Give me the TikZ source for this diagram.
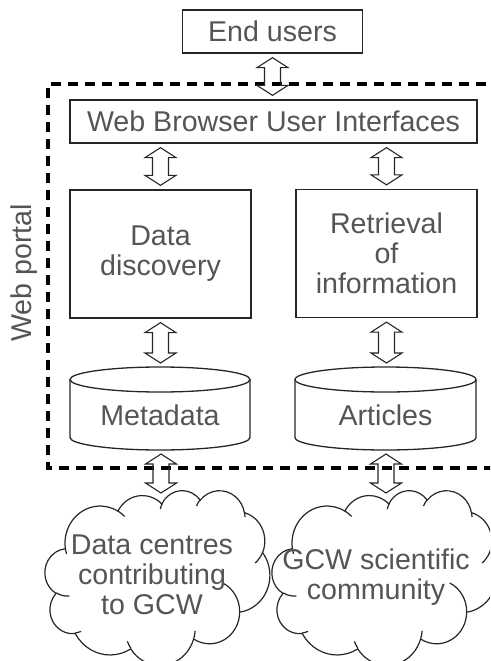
\documentclass[tikz,border=0pt]{standalone}
\usepackage{fontspec}
\setmainfont{Liberation Sans}
\usetikzlibrary{calc}
\definecolor{txt}{HTML}{555555}
% cloud geometry (Office-style cloud, 43200 units -> 225 x 175 px)
\def\cldsx{0.00520833}
\def\cldsy{0.00405093}
\def\cldsxk{5.20833}
\def\cldsyk{4.05093}
\newcommand\cldprep[5]{% id, wR, hR, stAng, swAng (visual angles, degrees)
  \pgfmathsetmacro\cldtmpS{atan2(#2*sin(#4), #3*cos(#4))}%
  \pgfmathsetmacro\cldtmpE{atan2(#2*sin(#4+#5), #3*cos(#4+#5))}%
  \expandafter\pgfmathsetmacro\csname cldS#1\endcsname{-(\cldtmpS)}%
  \expandafter\pgfmathsetmacro\csname cldD#1\endcsname{-mod(\cldtmpE-(\cldtmpS)+720,360)}%
  \expandafter\pgfmathsetmacro\csname cldX#1\endcsname{#2*\cldsx}%
  \expandafter\pgfmathsetmacro\csname cldY#1\endcsname{#3*\cldsy}%
}
\cldprep{a}{6753}{9190}{-190.4875}{123.7805}
\cldprep{b}{5333}{7267}{-144.1024}{89.9452}
\cldprep{c}{4365}{5945}{-145.8079}{99.7230}
\cldprep{d}{4857}{6595}{-130.9861}{117.2417}
\cldprep{e}{5333}{7273}{-78.7089}{109.0269}
\cldprep{f}{6775}{9220}{-46.2673}{130.2690}
\cldprep{g}{5785}{7867}{0.6250}{114.0333}
\cldprep{h}{6752}{9215}{22.4516}{115.1726}
\cldprep{i}{7720}{10543}{66.2426}{75.7110}
\cldprep{j}{4360}{5918}{-274.9421}{146.7356}
\cldprep{k}{4345}{5945}{-246.8285}{152.5189}
% inner strokes
\cldprep{A}{4345}{5945}{86.7420}{26.4295}
\cldprep{B}{4360}{5918}{73.6105}{11.4475}
\cldprep{C}{6752}{9215}{137.6242}{14.0811}
\cldprep{D}{6752}{9215}{6.4533}{15.9984}
\cldprep{E}{5785}{7867}{-70.2924}{70.9174}
\cldprep{F}{5333}{7273}{30.3180}{27.7515}
\cldprep{G}{4857}{6595}{-13.7443}{14.8589}
\cldprep{H}{4857}{6595}{-149.1815}{18.1954}
\cldprep{I}{4365}{5945}{-163.4943}{17.6864}
\cldprep{J}{6753}{9190}{-66.7070}{12.3194}
\cldprep{K}{6753}{9190}{157.6544}{11.8582}
\newcommand\cldarc[1]{arc[start angle=\csname cldS#1\endcsname, delta angle=\csname cldD#1\endcsname, x radius=\csname cldX#1\endcsname pt, y radius=\csname cldY#1\endcsname pt]}
% point in thousands of shape units
\newcommand\cldpt[4]{({#1+#3*\cldsxk},{#2+#4*\cldsyk})}
\newcommand\drawcloud[2]{% top-left corner (page px)
  \draw[cloudline, fill=white] \cldpt{#1}{#2}{3.900}{14.370}
    \cldarc{a} \cldarc{b} \cldarc{c} \cldarc{d} \cldarc{e} \cldarc{f}
    \cldarc{g} \cldarc{h} \cldarc{i} \cldarc{j} \cldarc{k} -- cycle;
  \draw[cloudline]
    \cldpt{#1}{#2}{4.693}{26.177} \cldarc{A}
    \cldpt{#1}{#2}{6.928}{34.899} \cldarc{B}
    \cldpt{#1}{#2}{16.478}{39.090} \cldarc{C}
    \cldpt{#1}{#2}{28.827}{34.751} \cldarc{D}
    \cldpt{#1}{#2}{34.129}{22.954} \cldarc{E}
    \cldpt{#1}{#2}{41.798}{15.354} \cldarc{F}
    \cldpt{#1}{#2}{38.324}{5.426} \cldarc{G}
    \cldpt{#1}{#2}{29.078}{3.952} \cldarc{H}
    \cldpt{#1}{#2}{22.141}{4.720} \cldarc{I}
    \cldpt{#1}{#2}{14.000}{5.192} \cldarc{J}
    \cldpt{#1}{#2}{4.127}{15.789} \cldarc{K};
}
\begin{document}
\begin{tikzpicture}[x=1pt,y=-1pt,
  font=\fontsize{28.6}{30}\selectfont, text=txt,
  box/.style={draw=black!85, line width=1.3pt, inner sep=0pt},
  line/.style={draw=black!85, line width=1.3pt},
  cloudline/.style={draw=black!85, line width=1.2pt},
  dbl/.style={draw=black!85, line width=1.1pt, line join=miter,
    to path={let \p1=(\tikztostart), \p2=(\tikztotarget) in
      (\x1,\y1) -- (\x1+15.5pt,\y1-10pt) -- (\x1+8pt,\y1-10pt) -- (\x1+8pt,\y2+10pt)
      -- (\x1+15.5pt,\y2+10pt) -- (\x1,\y2) -- (\x1-15.5pt,\y2+10pt) -- (\x1-8pt,\y2+10pt)
      -- (\x1-8pt,\y1-10pt) -- (\x1-15.5pt,\y1-10pt) -- cycle}}
]
\useasboundingbox (0,0) rectangle (490,661);
\clip (0,0) rectangle (490,661);

% boxes
\node[box, minimum width=180pt, minimum height=43pt] (eu) at (272.5,31.5) {End users};
\node[box, minimum width=407pt, minimum height=43pt] (wb) at (273.5,121.5) {Web Browser User Interfaces};
\node[box, minimum width=181pt, minimum height=128pt, align=center] (dd) at (160.5,254) {Data\\discovery};
\node[box, minimum width=181pt, minimum height=128pt, align=center] (ri) at (386.5,253.5) {Retrieval\\of\\information};

% cylinders
\draw[line] (160,379.5) ellipse[x radius=90pt, y radius=12.5pt];
\draw[line] (70,379.5) -- (70,437.5) arc[start angle=180, end angle=360, x radius=90pt, y radius=12.5pt] -- (250,379.5);
\node (md) at (160,415) {Metadata};
\draw[line] (385.5,379.5) ellipse[x radius=90.5pt, y radius=12.5pt];
\draw[line] (295,379.5) -- (295,437.5) arc[start angle=180, end angle=360, x radius=90.5pt, y radius=12.5pt] -- (476,379.5);
\node (ar) at (385.5,415) {Articles};
\coordinate (mdtop) at (161,367);
\coordinate (mdbot) at (161,450);
\coordinate (artop) at (386,367);
\coordinate (arbot) at (386,450);

% clouds
\drawcloud{45}{490}
\drawcloud{272}{490}
\coordinate (c1top) at (161,493);
\coordinate (c2top) at (386,493);
\node[align=center] (t1) at (152,575) {Data centres\\contributing\\to GCW};
\node[align=center] (t2) at (376,577) {GCW scientific\\community};

% web portal
\draw[line width=4pt, dash pattern=on 10pt off 7pt] (520,84) -- (48,84) -- (48,468) -- (520,468);
\node[rotate=90] (wp) at (24.5,273) {Web portal};

% arrows
\draw[dbl] ($(eu.south)+(0,4)$) to ($(eu.south |- wb.north)+(0,-4)$);
\draw[dbl] ($(dd.north |- wb.south)+(0,4)$) to ($(dd.north)+(0,-4)$);
\draw[dbl] ($(ri.north |- wb.south)+(0,4)$) to ($(ri.north)+(0,-4)$);
\draw[dbl] ($(dd.south)+(0,4)$) to ($(mdtop)+(0,-4)$);
\draw[dbl] ($(ri.south)+(0,4)$) to ($(artop)+(0,-4)$);
\draw[dbl] ($(mdbot)+(0,4)$) to (c1top);
\draw[dbl] ($(arbot)+(0,4)$) to (c2top);
\end{tikzpicture}
\end{document}
